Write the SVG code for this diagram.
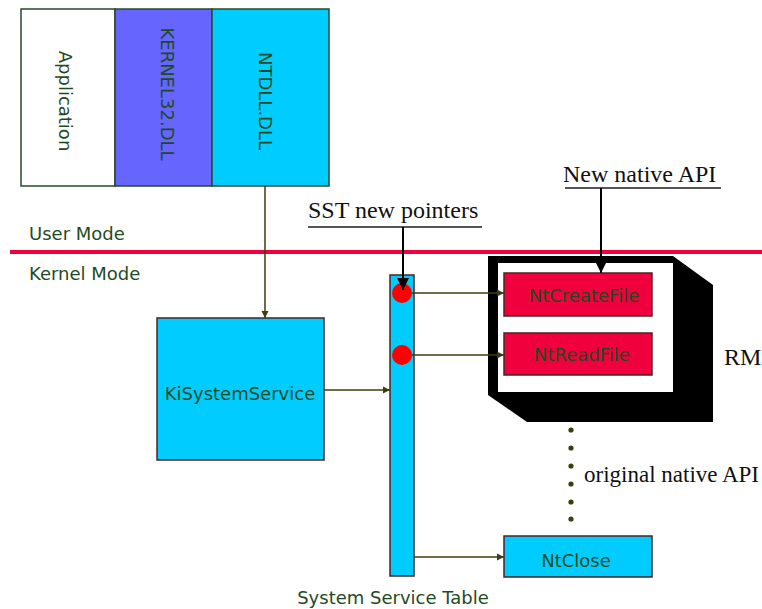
<svg xmlns="http://www.w3.org/2000/svg" width="762" height="609" viewBox="0 0 762 609">
<style>
.sans{font-family:"DejaVu Sans",Verdana,sans-serif;font-size:18px;fill:#1f4a1f}
.serif{font-family:"Liberation Serif","Times New Roman",serif;font-size:24px;fill:#111}
.conn{stroke:#3d3d10;stroke-width:1.5;fill:none}
.blk{stroke:#000;stroke-width:2;fill:none}
.ul{stroke:#555;stroke-width:2}
.box{stroke:#4d2222;stroke-width:1.5}
.top{stroke:#2a4a2a;stroke-width:1.5}
</style>
<defs>
<marker id="a" viewBox="0 0 10 10" refX="10" refY="5" markerWidth="5" markerHeight="5" markerUnits="strokeWidth" orient="auto"><path d="M0,0 L10,5 L0,10 z" fill="#3d3d10"/></marker>
<marker id="b" viewBox="0 0 10 10" refX="10" refY="5" markerWidth="6" markerHeight="6" markerUnits="strokeWidth" orient="auto"><path d="M0,0 L10,5 L0,10 z" fill="#000"/></marker>
</defs>
<rect width="762" height="609" fill="#fff"/>

<g id="application"><rect x="21" y="9" width="94" height="177" fill="#fff" class="top"/><text class="sans" transform="translate(65,101) rotate(90)" text-anchor="middle" dominant-baseline="central">Application</text></g>
<g id="kernel32"><rect x="115" y="9" width="97" height="177" fill="#6666ff" class="top"/><text class="sans" transform="translate(167,94) rotate(90)" text-anchor="middle" dominant-baseline="central">KERNEL32.DLL</text></g>
<g id="ntdll"><rect x="212" y="9" width="117" height="177" fill="#00ccff" class="top"/><text class="sans" transform="translate(265,101) rotate(90)" text-anchor="middle" dominant-baseline="central">NTDLL.DLL</text></g>

<g id="modes">
<line x1="10" y1="252" x2="762" y2="252" stroke="#f0003c" stroke-width="4"/>
<text class="sans" x="29" y="240">User Mode</text>
<text class="sans" x="29" y="280">Kernel Mode</text>
</g>

<g id="kisystemservice"><rect x="157" y="318" width="167" height="142" fill="#00ccff" class="box"/><text class="sans" x="240" y="400" text-anchor="middle">KiSystemService</text></g>

<g id="rm">
<polygon points="488,256 673,256 713,285 713,422 527,422 488,395" fill="#000"/>
<rect x="498" y="263" width="175" height="129" fill="#fff"/>
<text class="serif" x="724" y="365">RM</text>
</g>

<g id="ntcreatefile"><rect x="504" y="273" width="148" height="43" fill="#f0003c" class="box"/><text class="sans" x="584" y="302" text-anchor="middle">NtCreateFile</text></g>
<g id="ntreadfile"><rect x="504" y="333" width="148" height="42" fill="#f0003c" class="box"/><text class="sans" x="582" y="361" text-anchor="middle">NtReadFile</text></g>
<g id="ntclose"><rect x="504" y="536" width="148" height="41" fill="#00ccff" class="box"/><text class="sans" x="576" y="567" text-anchor="middle">NtClose</text></g>

<g id="sst">
<rect x="390" y="275" width="24" height="301" fill="#00ccff" class="box"/>
<circle cx="402" cy="293" r="10" fill="#ff0000"/>
<circle cx="402" cy="355" r="10" fill="#ff0000"/>
<text class="sans" x="393" y="604" text-anchor="middle">System Service Table</text>
</g>

<g id="labels">
<text class="serif" x="308" y="218">SST new pointers</text>
<line class="ul" x1="308" y1="227" x2="482" y2="227"/>
<text class="serif" x="563" y="182">New native API</text>
<line class="ul" x1="565" y1="188" x2="721" y2="188"/>
<text class="serif" x="584" y="482" style="font-size:23px">original native API</text>
</g>

<g id="connectors">
<line class="conn" x1="265" y1="186" x2="265" y2="318" marker-end="url(#a)"/>
<line class="conn" x1="324" y1="390" x2="390" y2="390" marker-end="url(#a)"/>
<line class="conn" x1="412" y1="293" x2="504" y2="293" marker-end="url(#a)"/>
<line class="conn" x1="412" y1="355" x2="504" y2="355" marker-end="url(#a)"/>
<line class="conn" x1="414" y1="557" x2="504" y2="557" marker-end="url(#a)"/>
<line class="blk" x1="403" y1="227" x2="403" y2="290" marker-end="url(#b)"/>
<line class="blk" x1="601" y1="188" x2="601" y2="273" marker-end="url(#b)"/>
<g fill="#3d3d10"><circle cx="571" cy="430" r="2.6"/><circle cx="571" cy="448" r="2.6"/><circle cx="571" cy="466" r="2.6"/><circle cx="571" cy="484" r="2.6"/><circle cx="571" cy="502" r="2.6"/><circle cx="571" cy="519" r="2.6"/></g>
</g>
</svg>
